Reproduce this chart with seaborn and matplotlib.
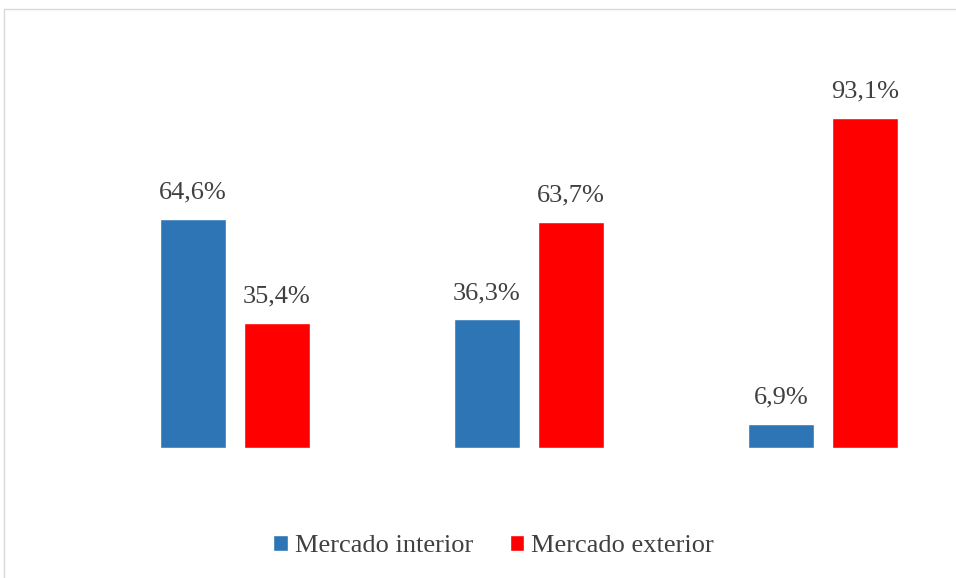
import numpy as np
import pandas as pd
import seaborn as sns
import matplotlib.pyplot as plt
from matplotlib.patches import Rectangle

groups = ['A', 'B', 'C']
interior = [64.6, 36.3, 6.9]
exterior = [35.4, 63.7, 93.1]
series = ['Mercado interior', 'Mercado exterior']

df = pd.DataFrame({
    'grupo': groups * 2,
    'valor': interior + exterior,
    'serie': [series[0]] * 3 + [series[1]] * 3,
})

sns.set_style('white')
plt.rcParams['font.family'] = ['Liberation Serif', 'DejaVu Serif']

W, H = 956, 578
fig = plt.figure(figsize=(W / 100, H / 100), dpi=100)
# plot area in pixels: left 88, right 956, top 93.5, bottom 448
ax = fig.add_axes([88 / W, 1 - 448 / H, (956 - 88) / W, (448 - 93.5) / H])

sns.barplot(data=df, x='grupo', y='valor', hue='serie', ax=ax,
            palette=['#2E75B6', '#FF0000'], width=168 / 294, gap=18 / 84,
            saturation=1, legend=True)

ax.set_xlim(-0.5, -0.5 + 868 / 294)
ax.set_ylim(0, 100)
ax.set_xlabel('')
ax.set_ylabel('')
ax.set_xticks([])
ax.set_yticks([])
for s in ax.spines.values():
    s.set_visible(False)

for cont in ax.containers:
    labs = [f"{b.get_height():.1f}%".replace('.', ',') for b in cont]
    ax.bar_label(cont, labels=labs, padding=11, fontsize=19, color='#404040')

handles, labels = ax.get_legend_handles_labels()
ax.get_legend().remove()
fig.legend(handles, labels, loc='center', bbox_to_anchor=(493.5 / W, 1 - 546 / H),
           ncol=2, frameon=False, fontsize=19, handlelength=0.55, handleheight=0.6,
           handletextpad=0.25, columnspacing=1.4, labelcolor='#404040')

fig.patches.append(Rectangle((4 / W, -0.1), 1.2, 1 - 9 / H + 0.1,
                             transform=fig.transFigure, fill=False,
                             edgecolor='#D9D9D9', lw=1))

fig.savefig('out.png', dpi=100)
